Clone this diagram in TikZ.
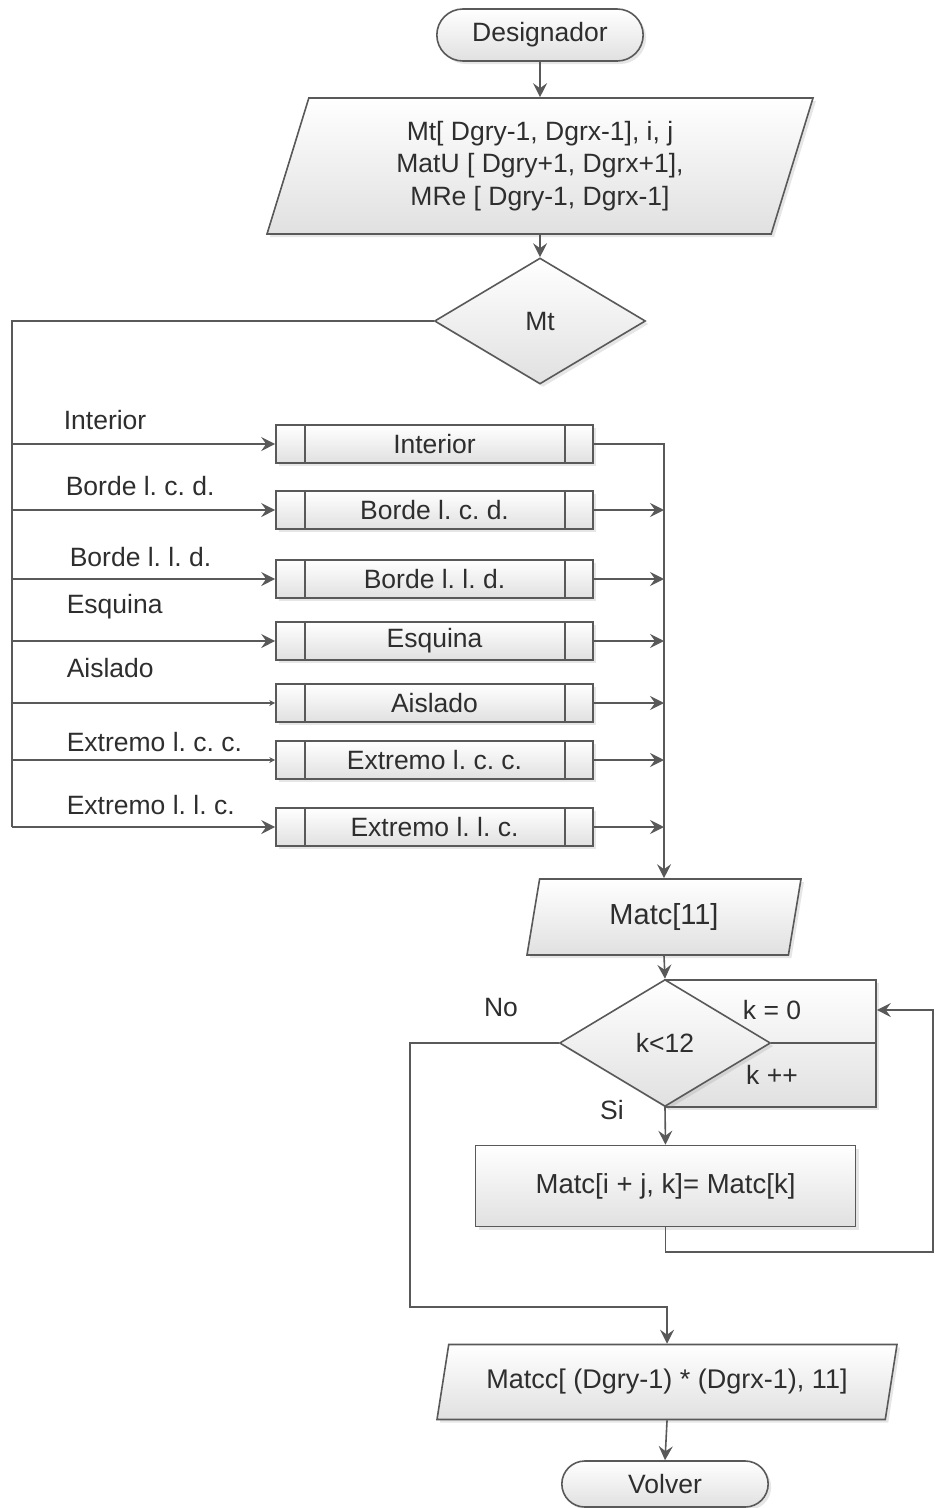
\documentclass[tikz,border=0pt]{standalone}
\usepackage{fontspec}
\setmainfont{Liberation Sans}
\usetikzlibrary{shapes.geometric,shapes.misc,arrows.meta,shadows}
\frenchspacing

\begin{document}
\begin{tikzpicture}[x=1pt, y=-1pt, line width=1.6pt,
  every node/.style={text=black!82, font=\fontsize{26.5}{31}\selectfont},
  caja/.style={draw=black!65, top color=white, bottom color=black!12,
    drop shadow={shadow xshift=3pt, shadow yshift=-3pt, opacity=.2}},
  term/.style={caja, rounded rectangle, minimum width=213pt, minimum height=52pt},
  datos/.style={caja, trapezium, trapezium left angle=65, trapezium right angle=115,
    trapezium stretches body, inner sep=0pt},
  decide/.style={caja, diamond, inner sep=0pt},
  subrut/.style={caja, minimum width=317pt, minimum height=38pt, inner sep=0pt,
    path picture={\draw[black!65]
      ([xshift=29pt]path picture bounding box.north west) -- ([xshift=29pt]path picture bounding box.south west)
      ([xshift=-28pt]path picture bounding box.north east) -- ([xshift=-28pt]path picture bounding box.south east);}},
  linea/.style={draw=black!65},
  flecha/.style={linea, -{Stealth[length=14pt, width=14pt, inset=5pt]}}]
  \useasboundingbox (0,0) rectangle (935,1508);

  % entrada y reparto
  \node[term] (inicio) at (540,35) {Designador};
  \node[datos, minimum width=546pt, minimum height=136pt, align=center,
    font=\fontsize{26.5}{32.5}\selectfont] (lectura) at (540,166)
    {Mt[ Dgry-1, Dgrx-1], i, j\\MatU [ Dgry+1, Dgrx+1],\\MRe [ Dgry-1, Dgrx-1]};
  \node[decide, minimum width=211pt, minimum height=126pt] (tipo) at (540,321) {Mt};
  \coordinate (busx) at (12,321);

  \node[datos, minimum width=274pt, minimum height=76pt,
    font=\fontsize{29}{34}\selectfont] (matc) at (664,917) {Matc[11]};

  \foreach \n/\y/\txt/\lx/\ly/\t in {1/444/Interior/63/420/14, 2/510/Borde l. c. d./65/486/14,
      3/579/Borde l. l. d./69/557/14, 4/641/Esquina/66/607/14, 5/703/Aislado/66/668/6,
      6/760/Extremo l. c. c./66/742/6, 7/827/Extremo l. l. c./66/805/14}{
    \node[subrut] (sub\n) at (434.5,\y) {\txt};
    \node[anchor=west, inner sep=0pt] (lbl\n) at (\lx,\ly) {\txt};
    \draw[linea, -{Stealth[length=\t pt, width=\t pt, inset=.35*\t pt]}] (busx |- sub\n.west) -- (sub\n.west);
  }
  \draw[linea] (tipo.west) -| (busx |- sub7.west);
  \draw[flecha] (sub1.east) -| (matc.north);
  \foreach \n in {2,...,7}
    \draw[flecha] (sub\n.east) -- (matc.north |- sub\n.east);

  % ciclo
  \node[caja, minimum width=211pt, minimum height=127pt, inner sep=0pt] (ciclo) at (770.5,1043.5) {};
  \node[decide, minimum width=211pt, minimum height=127pt] (cond) at (665,1043) {k<12};
  \node (kcero) at (772,1010) {k = 0};
  \node (kmas) at (772,1075) {k ++};
  \node (no) at (501,1007) {No};
  \node (si) at (612,1110) {Si};
  \node[caja, minimum width=380pt, minimum height=81pt,
    font=\fontsize{27.5}{32}\selectfont] (proc) at (665.5,1186) {Matc[i + j, k]= Matc[k]};
  \node[datos, minimum width=460pt, minimum height=75pt,
    font=\fontsize{27}{32}\selectfont] (salida) at (667,1382) {Matcc[ (Dgry-1) * (Dgrx-1), 11]};
  \node[term, minimum height=46pt] (fin) at (665,1484) {Volver};
  \coordinate (vuelta) at (933,1252);
  \coordinate (nosal) at (410,1307);

  \draw[flecha] (inicio.south) -- (lectura.north);
  \draw[flecha] (lectura.south) -- (tipo.north);
  \draw[flecha] (matc.south) -- (cond.north);
  \draw[linea] (cond.east) -- (cond.east -| ciclo.east);
  \draw[flecha] (cond.south) -- (proc.north);
  \draw[flecha] (proc.south) |- (vuelta) |- (kcero -| ciclo.east);
  \draw[flecha] (cond.west) -| (nosal) -| (salida.north);
  \draw[flecha] (salida.south) -- (fin.north);
\end{tikzpicture}
\end{document}
